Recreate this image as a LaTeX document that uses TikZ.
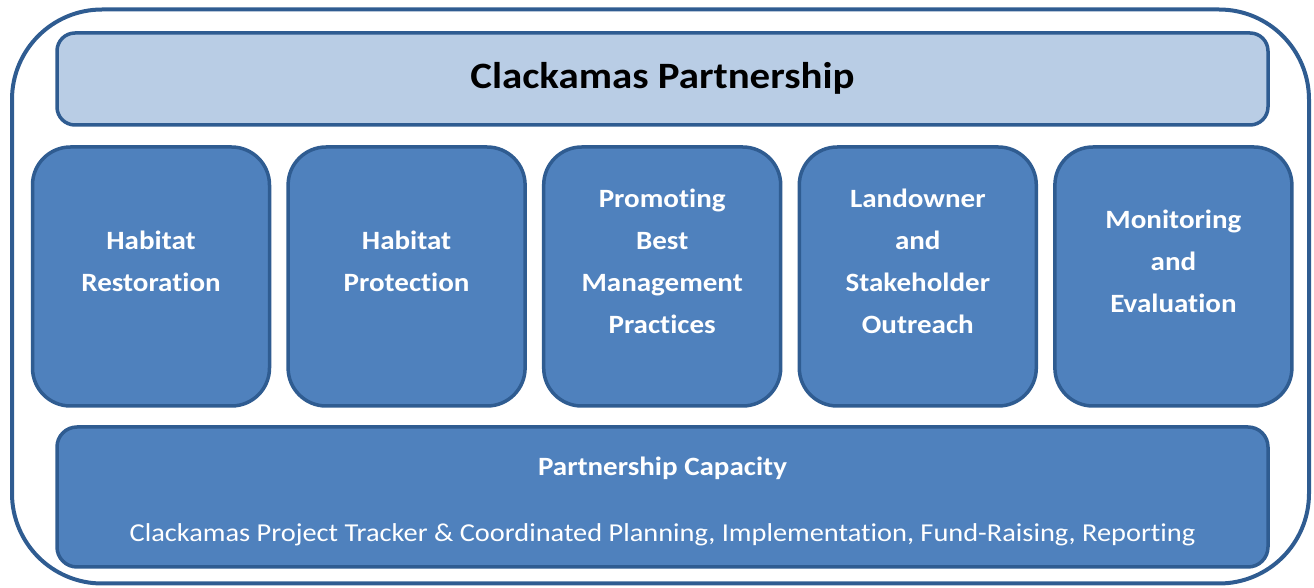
\documentclass[tikz,border=0pt]{standalone}
\usepackage{fontspec}
\setmainfont{Carlito}[FakeStretch=1.1,Ligatures=NoCommon]
\definecolor{edgeblue}{HTML}{2F5C91}
\definecolor{boxblue}{HTML}{4F81BD}
\definecolor{paleblue}{HTML}{B9CDE5}
\begin{document}
\begin{tikzpicture}[x=0.5pt,y=-0.5pt,
  bar/.style={draw=edgeblue,line width=1.75pt,rounded corners=9pt,
    minimum width=605.5pt,inner sep=0pt},
  pillar/.style={draw=edgeblue,fill=boxblue,line width=1.75pt,rounded corners=19pt,
    minimum width=118.5pt,minimum height=129.5pt},
  pillartext/.style={text=white,align=center,inner sep=0pt,
    font=\fontsize{13.2}{21}\selectfont\bfseries,
    execute at begin node=\strut,execute at end node=\strut}]
  \useasboundingbox (0,0) rectangle (1314,588);
  \node (frame) at (660.5,296.5) [draw=edgeblue,line width=2pt,rounded corners=45pt,
    minimum width=648.5pt,minimum height=287pt] {};
  \node (partnership) at (662.5,79) [bar,fill=paleblue,minimum height=46pt,
    font=\fontsize{18.6}{22}\selectfont\bfseries,text height=13.5pt,text depth=3.5pt]
    {Clackamas Partnership};
  \foreach \txt [count=\i] in {{Habitat\\Restoration},{Habitat\\Protection},
      {Promoting\\Best\\Management\\Practices},{Landowner\\and\\Stakeholder\\Outreach},
      {Monitoring\\and\\Evaluation}} {
    \node (pillar\i) at (151+255.6*\i-255.6,276.5) [pillar] {};
    \node (pillartext\i) at ([yshift=4.5pt]pillar\i.center) [pillartext] {\txt};
  }
  \node (capacity) at (662.5,497) [bar,fill=boxblue,minimum height=70pt,rounded corners=10pt] {};
  \node (capacitytitle) at ([yshift=10.5pt]capacity.center) [anchor=base,text=white,
    font=\fontsize{13.2}{16}\selectfont\bfseries] {Partnership Capacity};
  \node (capacitytasks) at ([yshift=-22.5pt]capacity.center) [anchor=base,text=white,
    font=\fontsize{12.9}{16}\selectfont]
    {Clackamas Project Tracker \& Coordinated Planning, Implementation, Fund-Raising, Reporting};
\end{tikzpicture}
\end{document}
